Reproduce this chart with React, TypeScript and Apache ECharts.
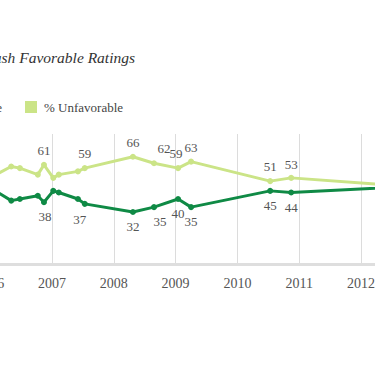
import React, { useEffect, useRef } from "react";
import * as echarts from "echarts";

// Survey dates (decimal years)
const dates: number[] = [
  2006.0, 2006.34, 2006.48, 2006.77, 2006.87, 2007.02, 2007.11, 2007.42,
  2007.53, 2008.31, 2008.65, 2009.04, 2009.25, 2010.53, 2010.87, 2013.42,
];
const favorable: number[] = [47, 39, 40, 42, 38, 45, 44, 40, 37, 32, 35, 40, 35, 45, 44, 49];
const unfavorable: number[] = [53, 60, 59, 55, 61, 53, 55, 57, 59, 66, 62, 59, 63, 51, 53, 46];
const labeledIdx: number[] = [4, 8, 9, 10, 11, 12, 13, 14];
const yearTicks: number[] = [2005, 2006, 2007, 2008, 2009, 2010, 2011, 2012, 2013, 2014];
const shownYears: number[] = [2006, 2007, 2008, 2009, 2010, 2011, 2012];

const seriesNames = ["% Favorable", "% Unfavorable"];
const titleText = "George W. Bush Favorable Ratings";

const DARK = "#0f8a45";
const LIGHT = "#cbe487";
const OFFSET = 100; // inner chart is shifted left so the page shows a cropped view
const INNER_W = 600;
const PX_PER_YEAR = 61.8;
const X2007 = 52; // window x of 2007

const favLabelOffset: Record<number, [number, number]> = { 4: [1, 0], 8: [-5, 1], 10: [6, 0] };
const unfLabelOffset: Record<number, [number, number]> = { 10: [10, 0], 11: [-2, 0], 14: [0, 1] };

const FONT = "Liberation Serif";

export default function App() {
  const ref = useRef<HTMLDivElement>(null);
  useEffect(() => {
    if (!ref.current) return;
    const chart = echarts.init(ref.current, null, { renderer: "svg" });
    const xMin = yearTicks[0];
    const xMax = yearTicks[yearTicks.length - 1];
    const gridLeft = OFFSET + X2007 + (xMin - 2007) * PX_PER_YEAR;
    const gridRight = INNER_W - (OFFSET + X2007 + (xMax - 2007) * PX_PER_YEAR);

    const mk = (vals: number[], offs: Record<number, [number, number]>, pos: "top" | "bottom") =>
      vals.map((v, i) => {
        const item: any = { value: [dates[i], v] };
        if (labeledIdx.includes(i)) {
          item.label = {
            show: true,
            position: pos,
            distance: 5,
            offset: offs[i] || [0, 0],
          };
        }
        return item;
      });

    const labelBase = {
      show: false,
      fontFamily: FONT,
      fontSize: 13,
      color: "#555",
      formatter: (p: any) => String(p.value[1]),
    };

    chart.setOption({
      animation: false,
      backgroundColor: "#fff",
      textStyle: { fontFamily: FONT },
      grid: { left: gridLeft, right: gridRight, top: 134, bottom: 111 },
      xAxis: {
        type: "value",
        min: xMin,
        max: xMax,
        interval: 1,
        axisLine: { show: true, lineStyle: { color: "#dedede", width: 3 } },
        axisTick: { show: false },
        axisLabel: {
          margin: 12,
          fontFamily: FONT,
          fontSize: 14,
          color: "#555",
          formatter: (v: number) => (shownYears.includes(v) ? String(v) : ""),
        },
        splitLine: { show: true, lineStyle: { color: "#dcdcdc", width: 1 } },
      },
      yAxis: {
        type: "value",
        min: 0,
        max: 80,
        show: false,
        splitLine: { show: false },
      },
      graphic: [
        {
          type: "text",
          x: OFFSET + 135,
          y: 57,
          style: {
            text: titleText,
            font: "italic 15.5px " + FONT,
            fill: "#333",
            align: "right",
            verticalAlign: "middle",
          },
        },
        {
          type: "text",
          x: OFFSET + 2,
          y: 107,
          style: {
            text: seriesNames[0],
            font: "13px " + FONT,
            fill: "#444",
            align: "right",
            verticalAlign: "middle",
          },
        },
        {
          type: "rect",
          shape: { x: OFFSET - 82, y: 101, width: 12, height: 12 },
          style: { fill: DARK },
        },
        {
          type: "rect",
          shape: { x: OFFSET + 25, y: 101, width: 12, height: 12 },
          style: { fill: LIGHT },
        },
        {
          type: "text",
          x: OFFSET + 44,
          y: 107,
          style: {
            text: seriesNames[1],
            font: "13px " + FONT,
            fill: "#444",
            align: "left",
            verticalAlign: "middle",
          },
        },
      ],
      series: [
        {
          name: seriesNames[1],
          type: "line",
          data: mk(unfavorable, unfLabelOffset, "top"),
          symbol: "circle",
          symbolSize: 6,
          lineStyle: { color: LIGHT, width: 3 },
          itemStyle: { color: LIGHT },
          label: labelBase,
          z: 2,
        },
        {
          name: seriesNames[0],
          type: "line",
          data: mk(favorable, favLabelOffset, "bottom"),
          symbol: "circle",
          symbolSize: 6,
          lineStyle: { color: DARK, width: 3 },
          itemStyle: { color: DARK },
          label: labelBase,
          z: 3,
        },
      ],
    });
    return () => chart.dispose();
  }, []);

  return (
    <div
      style={{
        position: "fixed",
        left: 0,
        top: 0,
        width: 375,
        height: 375,
        overflow: "hidden",
        background: "#fff",
      }}
    >
      <div
        ref={ref}
        style={{ position: "absolute", left: -OFFSET, top: 0, width: INNER_W, height: 375 }}
      />
    </div>
  );
}
